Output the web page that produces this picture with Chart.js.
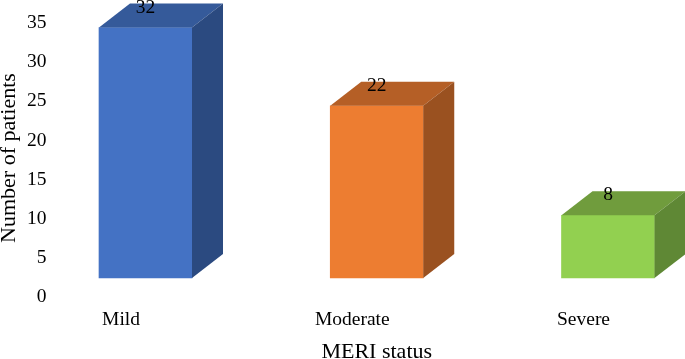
<!DOCTYPE html>
<html lang="en">

<head>
    <meta charset="UTF-8">
    <title>MERI status</title>
    <script src="https://cdn.jsdelivr.net/npm/chart.js"></script>
    <style>
        html, body {
            margin: 0;
            padding: 0;
            background-color: #ffffff;
        }

        #grafico {
            display: block;
        }
    </style>
</head>

<body>
    <canvas id="grafico" width="685" height="359"></canvas>

    <script>
        const categories = ['Mild', 'Moderate', 'Severe'];
        const patients = [32, 22, 8];
        const frontColors = ['#4472c4', '#ed7d31', '#92d050'];
        const topColors = ['#355a9a', '#b55f26', '#709c3d'];
        const sideColors = ['#2b4a80', '#9a5120', '#5f8835'];

        const fonte = { family: '"Liberation Serif"', size: 19.5 };
        const fonteTitulo = { family: '"Liberation Serif"', size: 22 };
        const corTexto = '#000000';

        // side and top faces of the boxes, plus the value on top of each one
        const DEPTH_X = 31;
        const DEPTH_Y = 24;
        // the y title sits lower than the middle of the axis
        const TITULO_Y_SHIFT = 17;

        function poligono(ctx, pontos, cor) {
            ctx.fillStyle = cor;
            ctx.beginPath();
            pontos.forEach((p, i) => i === 0 ? ctx.moveTo(p[0], p[1]) : ctx.lineTo(p[0], p[1]));
            ctx.closePath();
            ctx.fill();
        }

        const caixa3d = {
            id: 'caixa3d',
            beforeDraw(chart) {
                const y = chart.scales.y;
                if (y.tituloMovido) return;
                y.tituloMovido = true;
                const original = y.drawTitle;
                y.drawTitle = function () {
                    chart.ctx.save();
                    chart.ctx.translate(0, TITULO_Y_SHIFT);
                    original.call(this);
                    chart.ctx.restore();
                };
            },
            afterDatasetsDraw(chart) {
                const ctx = chart.ctx;
                chart.getDatasetMeta(0).data.forEach((bar, i) => {
                    const esq = bar.x - bar.width / 2;
                    const dir = bar.x + bar.width / 2;
                    poligono(ctx, [[esq, bar.y], [dir, bar.y], [dir + DEPTH_X, bar.y - DEPTH_Y], [esq + DEPTH_X, bar.y - DEPTH_Y]], topColors[i]);
                    poligono(ctx, [[dir, bar.y], [dir + DEPTH_X, bar.y - DEPTH_Y], [dir + DEPTH_X, bar.base - DEPTH_Y], [dir, bar.base]], sideColors[i]);

                    ctx.save();
                    ctx.fillStyle = corTexto;
                    ctx.font = `${fonte.size}px ${fonte.family}`;
                    ctx.textAlign = 'center';
                    ctx.textBaseline = 'middle';
                    ctx.fillText(patients[i], bar.x, bar.y - 20);
                    ctx.restore();
                });
            }
        };

        const ctx = document.getElementById('grafico').getContext('2d');
        const myChart = new Chart(ctx, {
            type: 'bar',
            data: {
                labels: categories,
                datasets: [{
                    label: 'Number of patients',
                    data: patients,
                    backgroundColor: frontColors,
                    barThickness: 93,
                    clip: false
                }]
            },
            options: {
                responsive: false,
                animation: false,
                layout: {
                    padding: { top: 4, right: 77, bottom: 0, left: 0 }
                },
                plugins: {
                    legend: { display: false },
                    tooltip: { enabled: false }
                },
                scales: {
                    x: {
                        offset: false,
                        grid: { display: false, drawTicks: false },
                        border: { display: false },
                        ticks: {
                            color: corTexto,
                            font: fonte,
                            padding: 30,
                            labelOffset: -24.5,
                            maxRotation: 0
                        },
                        title: {
                            display: true,
                            text: 'MERI status',
                            color: corTexto,
                            font: fonteTitulo,
                            padding: { top: 0, bottom: -6 }
                        },
                        afterFit(scale) {
                            scale.height = 81;
                            scale.paddingLeft = 0;
                            scale.paddingRight = 0;
                        }
                    },
                    y: {
                        min: 0,
                        max: 35,
                        grid: { display: false, drawTicks: false },
                        border: { display: false },
                        ticks: {
                            stepSize: 5,
                            color: corTexto,
                            font: fonte,
                            padding: 99,
                            labelOffset: 19
                        },
                        title: {
                            display: true,
                            text: 'Number of patients',
                            color: corTexto,
                            font: fonteTitulo,
                            padding: { top: -4, bottom: 0 }
                        },
                        afterFit(scale) {
                            scale.width = 145.5;
                            scale.paddingTop = 0;
                            scale.paddingBottom = 0;
                        }
                    }
                }
            },
            plugins: [caixa3d]
        });
    </script>
</body>

</html>
